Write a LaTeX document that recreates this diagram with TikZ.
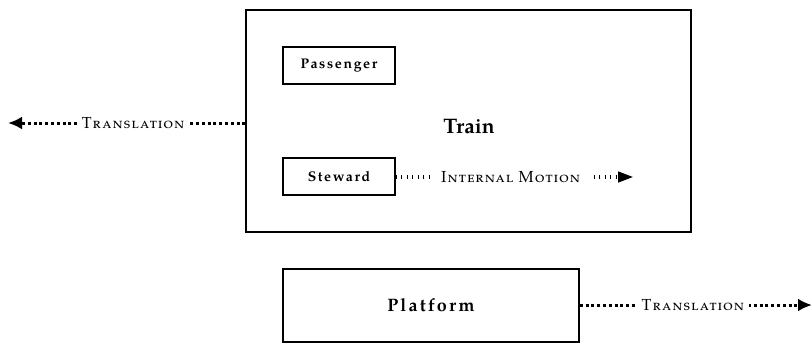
\documentclass[tikz,border=0pt]{standalone}
\usepackage{fontspec}
\setmainfont{texgyrepagella}[
  Extension=.otf,
  UprightFont=*-regular,
  BoldFont=*-bold,
  ItalicFont=*-italic,
  BoldItalicFont=*-bolditalic]
\usetikzlibrary{arrows.meta}

\tikzset{
  box/.style={draw, line width=1.4pt, inner sep=0pt},
  boxfont/.style={font=\bfseries\fontsize{#1}{#1}\selectfont\addfontfeature{LetterSpace=12}},
  motionlabel/.style={fill=white, inner sep=5pt,
    font=\scshape\fontsize{16}{19}\selectfont\addfontfeature{LetterSpace=8}},
  translation/.style={line width=3pt, dash pattern=on 3pt off 2.8pt,
    -{Latex[length=14pt,width=13pt]}},
  internal/.style={line width=4pt, dash pattern=on 1.1pt off 4.4pt,
    -{Triangle[length=16pt,width=10pt]}},
}

\begin{document}
\begin{tikzpicture}[x=1pt,y=-1pt]
  \useasboundingbox (0,0) rectangle (812,343);

  % train and its occupants
  \node[box, minimum width=445pt, minimum height=222pt] (train) at (468.5,121) {};
  \node[font=\bfseries\fontsize{21}{24}\selectfont] (trainlbl) at (469,127) {Train};
  \node[box, boxfont=14, minimum width=112pt, minimum height=37pt] (passenger) at (339,65.5) {Passenger};
  \node[box, boxfont=14, minimum width=112pt, minimum height=37pt] (steward) at (339,176.5) {Steward};

  % platform
  \node[box, boxfont=18, minimum width=296pt, minimum height=73pt] (platform) at (431,305.5) {Platform};

  % free ends of the motion arrows
  \coordinate (trainend) at (8,123);
  \coordinate (stewardend) at (634,177);
  \coordinate (platformend) at (812,305);

  % motions
  \draw[translation] (train.west |- trainend) -- (trainend)
    node[pos=0.473, motionlabel] (lefttrans) {Translation};
  \draw[internal] (steward.east |- stewardend) -- (stewardend)
    node[pos=0.482, motionlabel, inner xsep=11pt] (internallbl) {Internal Motion};
  \draw[translation] (platform.east |- platformend) -- (platformend)
    node[pos=0.487, motionlabel] (righttrans) {Translation};
\end{tikzpicture}
\end{document}
